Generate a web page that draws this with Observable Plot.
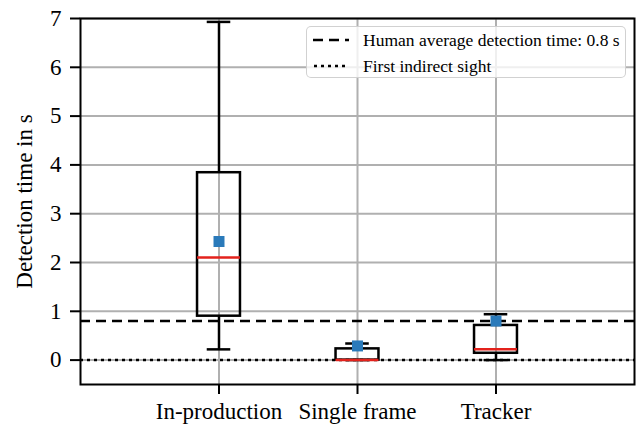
<!DOCTYPE html>
<html>
<head>
<meta charset="utf-8">
<script src="https://cdn.jsdelivr.net/npm/d3@7"></script>
<script src="https://cdn.jsdelivr.net/npm/@observablehq/plot@0.6"></script>
<style>
  body { margin: 0; background: white; }
  #wrap { position: relative; width: 640px; height: 428px; font-family: "Liberation Serif", "Times New Roman", serif; }
  #chart svg, #chart svg text { font-family: "Liberation Serif", "Times New Roman", serif !important; }
  #legend { position: absolute; left: 306px; top: 26px; width: 320px; height: 52px;
    border: 1.5px solid rgba(204,204,204,0.9); border-radius: 5px; background: rgba(255,255,255,0.8);
    font-size: 17.5px; color: #000; box-sizing: border-box; }
  .row { position: absolute; left: 0; height: 26px; display: flex; align-items: center; white-space: nowrap; }
  .row svg { margin-left: 6px; margin-right: 14px; }
</style>
</head>
<body>
<div id="wrap">
  <div id="chart"></div>
  <div id="legend">
    <div class="row" style="top:0px"><svg width="36" height="10"><line x1="0" y1="5" x2="36" y2="5" stroke="black" stroke-width="2.5" stroke-dasharray="10,6"/></svg><span>Human average detection time: 0.8 s</span></div>
    <div class="row" style="top:26px"><svg width="36" height="10"><line x1="1" y1="5" x2="36" y2="5" stroke="black" stroke-width="2.5" stroke-dasharray="3,4"/></svg><span>First indirect sight</span></div>
  </div>
</div>
<script>
const categories = ["In-production", "Single frame", "Tracker"];
const whiskerLow = [0.22, 0.0, 0.0];
const q1 = [0.90, 0.0, 0.14];
const median = [2.10, 0.0, 0.22];
const q3 = [3.84, 0.23, 0.71];
const whiskerHigh = [6.93, 0.34, 0.94];
const mean = [2.43, 0.29, 0.80];
const yTicks = [0, 1, 2, 3, 4, 5, 6, 7];
const humanAvg = 0.8;
const firstSight = 0;

const data = categories.map((c, i) => ({
  name: c, pos: i + 1, low: whiskerLow[i], q1: q1[i], med: median[i],
  q3: q3[i], high: whiskerHigh[i], mean: mean[i]
}));
const halfBox = 0.155, halfCap = 0.085;

const chart = Plot.plot({
  width: 640, height: 428,
  marginLeft: 80, marginRight: 6, marginTop: 18, marginBottom: 44,
  style: { fontFamily: "'Liberation Serif', serif", fontSize: "23px", background: "white" },
  x: { domain: [0, 4] },
  y: { domain: [-0.5, 7.0] },
  marks: [
    Plot.gridY(yTicks, { stroke: "#b0b0b0", strokeOpacity: 1, strokeWidth: 2 }),
    Plot.gridX(data.map(d => d.pos), { stroke: "#b0b0b0", strokeOpacity: 1, strokeWidth: 2 }),
    Plot.ruleY([humanAvg], { stroke: "black", strokeWidth: 2.5, strokeDasharray: "10,6" }),
    Plot.ruleY([firstSight], { stroke: "black", strokeWidth: 2.5, strokeDasharray: "3,4" }),
    Plot.ruleX(data, { x: "pos", y1: "q3", y2: "high", stroke: "black", strokeWidth: 2.5 }),
    Plot.ruleX(data, { x: "pos", y1: "low", y2: "q1", stroke: "black", strokeWidth: 2.5 }),
    Plot.ruleY(data, { y: "high", x1: d => d.pos - halfCap, x2: d => d.pos + halfCap, stroke: "black", strokeWidth: 2.5 }),
    Plot.ruleY(data, { y: "low", x1: d => d.pos - halfCap, x2: d => d.pos + halfCap, stroke: "black", strokeWidth: 2.5 }),
    Plot.rect(data, { x1: d => d.pos - halfBox, x2: d => d.pos + halfBox, y1: "q1", y2: "q3", fill: "none", stroke: "black", strokeWidth: 2.5 }),
    Plot.ruleY(data, { y: "med", x1: d => d.pos - halfBox, x2: d => d.pos + halfBox, stroke: "#e3221c", strokeWidth: 2.5 }),
    Plot.dot(data, { x: "pos", y: "mean", symbol: "square", r: 6.2, fill: "#2a7aba", stroke: "none" }),
    Plot.frame({ stroke: "black", strokeWidth: 2 }),
    Plot.axisY({ ticks: yTicks, tickSize: 10, tickPadding: 9, strokeWidth: 2, label: null, fontSize: 23 }),
    Plot.axisX({ ticks: data.map(d => d.pos), tickFormat: d => categories[d - 1], tickSize: 10, tickPadding: 8, strokeWidth: 2, label: null, fontSize: 23 }),
    Plot.text(["Detection time in s"], { frameAnchor: "left", dx: -56, rotate: -90, text: d => d, fontSize: 23, textAnchor: "middle" })
  ]
});
document.getElementById("chart").appendChild(chart);
</script>
</body>
</html>
